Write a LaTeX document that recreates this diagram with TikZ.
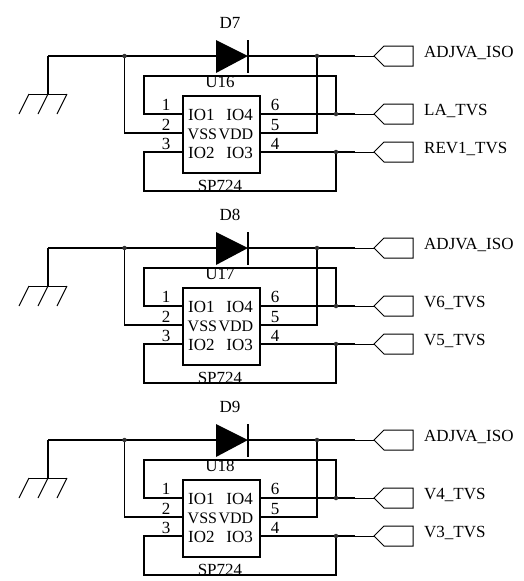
\documentclass[tikz,border=0pt]{standalone}
\usepackage{fontspec}
\setmainfont{Liberation Serif}
\begin{document}
\begin{tikzpicture}[x=1pt,y=-1pt,
  wire/.style={line width=1.5pt,black},
  thin wire/.style={line width=1pt,black},
  chipbox/.style={draw,line width=1.5pt,minimum width=77pt,minimum height=77pt,inner sep=0pt,anchor=north west},
  dot/.style={circle,fill=black!80,inner sep=0pt,minimum size=4.5pt},
  lbl/.style={font=\fontsize{17}{17}\selectfont,inner sep=0pt,anchor=base},
  snug/.style={font=\fontsize{16}{16}\selectfont,inner sep=0pt},
  tag/.style={lbl,anchor=base west}]
\useasboundingbox (0,0) rectangle (523,581);
\fill[white] (0,0) rectangle (523,581);
\foreach \i/\off/\D/\U/\a/\b/\c in {1/0/D7/U16/ADJVA\_ISO/LA\_TVS/REV1\_TVS,2/192/D8/U17/ADJVA\_ISO/V6\_TVS/V5\_TVS,3/384/D9/U18/ADJVA\_ISO/V4\_TVS/V3\_TVS}{
\begin{scope}[yshift=-\off pt]
  \coordinate (gt\i) at (48,56);
  \coordinate (gb\i) at (48,94);
  \draw[wire] (gt\i) -- (gb\i);
  \draw[thin wire] (29,94) -- (67,94);
  \draw[thin wire] (29,94) -- (19,114) (48,94) -- (38,114) (67,94) -- (57,114);
  % chip
  \node[chipbox] (box\i) at (182,95) {};
  \coordinate (p1\i) at (182,114);
  \coordinate (p2\i) at (182,133);
  \coordinate (p3\i) at (182,152);
  \coordinate (p6\i) at (259,114);
  \coordinate (p5\i) at (259,133);
  \coordinate (p4\i) at (259,152);
  % diode
  \coordinate (da\i) at (216,56);
  \coordinate (dk\i) at (248,56);
  \fill (216,40) -- (248,56) -- (216,73) -- cycle;
  \draw[line width=2pt] (248,40) -- (248,73);
  % junction positions
  \coordinate (cl\i) at (124.5,56);
  \coordinate (cr\i) at (317,56);
  \coordinate (ca\i) at (336,114);
  \coordinate (cb\i) at (336,152);
  % ports
  \coordinate (ta\i) at (374,56);
  \coordinate (tb\i) at (374,114);
  \coordinate (tc\i) at (374,152);
  \foreach \t in {a,b,c}{
    \draw[thin wire] (t\t\i) -- ++(10,-10) -- ++(29,0) -- ++(0,20) -- ++(-29,0) -- cycle;
  }
  % wires
  \draw[wire] (gt\i) -- (cl\i) -- (da\i);
  \draw[wire] (dk\i) -- (cr\i) -- (355,56);
  \draw[thin wire] (355,56) -- (ta\i);
  \draw[wire] (cl\i) |- (p2\i);
  \draw[wire] (p5\i) -| (cr\i);
  \draw[wire] (p1\i) -- (144,114) -- (144,76) -- (336,76) -- (ca\i);
  \draw[wire] (p6\i) -- (ca\i) -- (355,114);
  \draw[thin wire] (355,114) -- (tb\i);
  \draw[wire] (p3\i) -- (144,152) -- (144,191) -- (336,191) -- (cb\i);
  \draw[wire] (p4\i) -- (cb\i) -- (355,152);
  \draw[thin wire] (355,152) -- (tc\i);
  % junction dots
  \node[dot] (jl\i) at (cl\i) {};
  \node[dot] (jr\i) at (cr\i) {};
  \node[dot] (ja\i) at (ca\i) {};
  \node[dot] (jb\i) at (cb\i) {};
  % labels
  \node[lbl] (nd\i) at (230,28) {\D};
  \node[lbl] (nu\i) at (220,87.5) {\U};
  \node[lbl] (ns\i) at (220,191) {SP724};
  \node[lbl] (n1\i) at (166,110) {1};
  \node[lbl] (n2\i) at (166,130) {2};
  \node[lbl] (n3\i) at (166,149) {3};
  \node[lbl] (n6\i) at (275,110) {6};
  \node[lbl] (n5\i) at (275,130) {5};
  \node[lbl] (n4\i) at (275,149) {4};
  \node[lbl,anchor=base west] (i1\i) at (188,120) {IO1};
  \node[lbl,snug,anchor=base west] (i2\i) at (187.5,139) {VSS};
  \node[lbl,anchor=base west] (i3\i) at (188,158.5) {IO2};
  \node[lbl,anchor=base east] (i4\i) at (253,120) {IO4};
  \node[lbl,snug,anchor=base east] (i5\i) at (253.5,139) {VDD};
  \node[lbl,anchor=base east] (i6\i) at (253,158.5) {IO3};
  \node[tag] (la\i) at (424,57) {\a};
  \node[tag] (lb\i) at (424,115) {\b};
  \node[tag] (lc\i) at (424,153) {\c};
\end{scope}
}
\end{tikzpicture}
\end{document}
